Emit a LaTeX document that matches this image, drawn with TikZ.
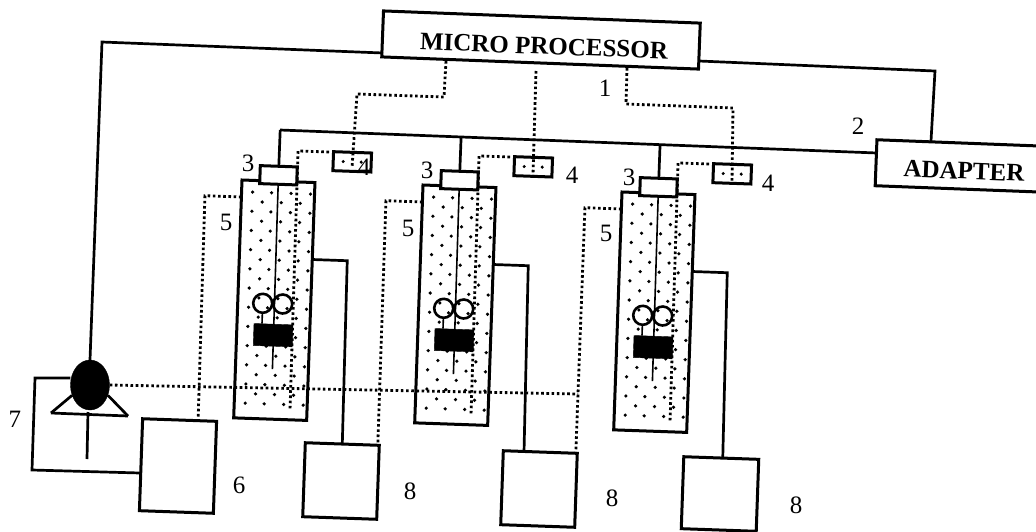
\documentclass[tikz,border=0pt]{standalone}
\usepackage{fontspec}
\setmainfont{Liberation Serif}
\usetikzlibrary{calc,shapes.geometric}
\tikzset{
  wire/.style={line width=2.7pt,black},
  thinwire/.style={line width=1.6pt,black},
  dotwire/.style={line width=2.8pt,black,dash pattern=on 2.6pt off 2.6pt},
  solidbox/.style={draw=black,line width=3pt,fill=white,inner sep=0pt,outer sep=0pt},
  tilted/.style={solidbox,rotate=-2},
  tag/.style={font=\fontsize{25}{25}\selectfont,inner sep=0pt},
  title/.style={font=\fontsize{25}{25}\selectfont\bfseries,inner sep=0pt}
}
\newcommand\tubecolumn[3]{%
\begin{scope}[shift={(#2,#3)},rotate=-2,transform shape]
  \node[solidbox,anchor=north west,minimum width=73pt,minimum height=238pt] (tube#1) at (0,0) {};
  \foreach \r in {0,2,...,22} {
    \foreach \c in {11,30,49.5,69} \fill (\c,{11.7+9.6*\r}) circle (1.8pt);
  }
  \foreach \r in {1,3,...,21} {
    \foreach \c in {21,40,59} \fill (\c,{11.7+9.6*\r}) circle (1.8pt);
  }
  \node[solidbox,minimum width=37pt,minimum height=18pt] (cap#1) at (36.3,-6) {};
  \coordinate (lineend#1) at (37,188);
  \draw[thinwire] (cap#1.south) -- (lineend#1);
  \node[circle,draw=black,line width=2.6pt,minimum size=19pt,inner sep=0pt] (ringa#1) at (25,122.5) {};
  \node[circle,draw=black,line width=2.6pt,minimum size=19pt,inner sep=0pt] (ringb#1) at (45,122.5) {};
  \node[draw=black,fill=black,inner sep=0pt,minimum width=39pt,minimum height=22pt] (block#1) at (36.5,154) {};
  \draw[thinwire] (ringa#1.south) -- (ringa#1.south |- block#1.north);
  \node[solidbox,minimum width=38pt,minimum height=19pt] (sensor#1) at (109.5,-22) {};
  \fill ($(sensor#1.center)+(-9,0)$) circle (1.7pt) ($(sensor#1.center)+(9,0)$) circle (1.7pt);
  \coordinate (join#1) at (86,-31);
  \coordinate (bend#1) at (55,-31);
  \coordinate (inend#1) at (56,227);
  \draw[dotwire] (join#1) -- (bend#1) -- (inend#1);
  \coordinate (leftout#1) at (0,17);
  \coordinate (leftbend#1) at (-36.5,17);
  \coordinate (rightout#1) at (73,77);
  \coordinate (rightbend#1) at (108,77);
\end{scope}}
\begin{document}
\begin{tikzpicture}[x=1pt,y=-1pt]
\useasboundingbox (0,0) rectangle (1036,531);
\clip (0,0) rectangle (1036,531);
% top boxes
\node[solidbox,rotate=-2.2,minimum width=317pt,minimum height=46pt] (mp) at (541,40) {};
\node[title,rotate=-2.2] (mptext) at (544,46) {MICRO PROCESSOR};
\node[solidbox,rotate=-2.2,minimum width=170pt,minimum height=46pt] (adapter) at (961,166) {};
\node[title,rotate=-2.2] (adaptertext) at (964,171) {ADAPTER};
% columns
\tubecolumn{1}{242}{180}
\tubecolumn{2}{423}{185}
\tubecolumn{3}{622}{192}
% bottom boxes
\node[tilted,minimum width=74pt,minimum height=92pt] (source) at (178,466) {};
\node[tilted,minimum width=74pt,minimum height=74pt] (tanka) at (341,481) {};
\node[tilted,minimum width=74pt,minimum height=74pt] (tankb) at (539,489) {};
\node[tilted,minimum width=75pt,minimum height=72pt] (tankc) at (720,494) {};
% power bus
\coordinate (busL) at (280,130);
\coordinate (busR) at (877,153);
\draw[wire] (busL) -- (busR);
\foreach \i in {1,2,3} \draw[wire] (cap\i.north) -- ($(busL)!(cap\i.north)!(busR)$);
% processor to adapter
\coordinate (mpR) at (699,61);
\coordinate (mpRbend) at (935,71);
\coordinate (adTop) at (931,141);
\draw[wire] (mpR) -- (mpRbend) -- (adTop);
% pump
\coordinate (triL) at (51,413);
\coordinate (triR) at (128,416);
\coordinate (stemTop) at (88,412);
\coordinate (stemEnd) at (87,459);
\node[ellipse,draw=black,fill=black,minimum width=39pt,minimum height=50pt,inner sep=0pt] (pump) at (90,385) {};
\draw[wire] (triL) -- (triR);
\draw[wire] (triL) -- (pump.210);
\draw[wire] (triR) -- (pump.330);
\draw[wire] (stemTop) -- (stemEnd);
% processor to pump
\coordinate (mpL) at (383,53);
\coordinate (mpLbend) at (102,42);
\draw[wire] (mpL) -- (mpLbend) -- (pump.north);
% pump loop
\coordinate (loopA) at (35,378);
\coordinate (loopB) at (32,470);
\coordinate (loopC) at (140,473);
\draw[wire] (pump.west |- loopA) -- (loopA) -- (loopB) -- (loopC);
% dotted control lines
\coordinate (mpa) at (446,61);
\coordinate (mpaB) at (444,97);
\coordinate (mpaC) at (357,94);
\coordinate (senA) at (352,168);
\draw[dotwire] (mpa) -- (mpaB) -- (mpaC) -- (senA);
\coordinate (mpb) at (536,71);
\coordinate (senB) at (533,175);
\draw[dotwire] (mpb) -- (senB);
\coordinate (mpc) at (627,68);
\coordinate (mpcB) at (626,104);
\coordinate (mpcC) at (733,108);
\coordinate (senC) at (732,182);
\draw[dotwire] (mpc) -- (mpcB) -- (mpcC) -- (senC);
% left dotted
\draw[dotwire] (leftout1) -- (leftbend1) -- ($(source.north west)!.75!(source.north east)$);
\draw[dotwire] (leftout2) -- (leftbend2) -- ($(tanka.north west)!.98!(tanka.north east)$);
\draw[dotwire] (leftout3) -- (leftbend3) -- ($(tankb.north west)!.98!(tankb.north east)$);
% right solid
\draw[wire] (rightout1) -- (rightbend1) -- ($(tanka.north west)!.5!(tanka.north east)$);
\draw[wire] (rightout2) -- (rightbend2) -- ($(tankb.north west)!.28!(tankb.north east)$);
\draw[wire] (rightout3) -- (rightbend3) -- ($(tankc.north west)!.52!(tankc.north east)$);
% horizontal dotted
\coordinate (airEnd) at (578,394);
\draw[dotwire] (pump.east) -- (airEnd);
% labels
\node[tag] (n1) at (605,88) {1};
\node[tag] (n2) at (858,126) {2};
\node[tag] (n3a) at (248,163) {3};
\node[tag] (n3b) at (427,170) {3};
\node[tag] (n3c) at (629,177) {3};
\node[tag] (n4a) at (364,167) {4};
\node[tag] (n4b) at (572,175) {4};
\node[tag] (n4c) at (768,183) {4};
\node[tag] (n5a) at (226,222) {5};
\node[tag] (n5b) at (408,228) {5};
\node[tag] (n5c) at (606,233) {5};
\node[tag] (n6) at (239,485) {6};
\node[tag] (n7) at (15,419) {7};
\node[tag] (n8a) at (410,491) {8};
\node[tag] (n8b) at (612,498) {8};
\node[tag] (n8c) at (796,505) {8};
\end{tikzpicture}
\end{document}
